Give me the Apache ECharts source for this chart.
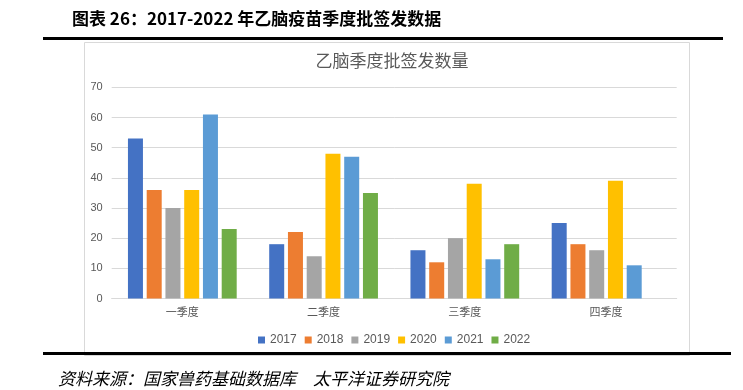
<!DOCTYPE html>
<html>
<head>
<meta charset="utf-8">
<script src="https://cdn.jsdelivr.net/npm/echarts@6/dist/echarts.min.js"></script>
<style>
html,body{margin:0;padding:0;background:#fff;}
#c{width:743px;height:390px;}
</style>
</head>
<body>
<div id="c"></div>
<script>
const categories = ['一季度', '二季度', '三季度', '四季度'];
const years = ['2017', '2018', '2019', '2020', '2021', '2022'];
const v2017 = [53, 18, 16, 25];
const v2018 = [36, 22, 12, 18];
const v2019 = [30, 14, 20, 16];
const v2020 = [36, 48, 38, 39];
const v2021 = [61, 47, 13, 11];
const v2022 = [23, 35, 18, null];
const yTicks = [0, 10, 20, 30, 40, 50, 60, 70];
const headerText = '图表 26：2017-2022 年乙脑疫苗季度批签发数据';
const chartTitle = '乙脑季度批签发数量';
const footerText = '资料来源：国家兽药基础数据库　太平洋证券研究院';

const colors = ['#4472C4', '#ED7D31', '#A5A5A5', '#FFC000', '#5B9BD5', '#70AD47'];
const seriesValues = [v2017, v2018, v2019, v2020, v2021, v2022];
const cjk = '"Noto Sans CJK SC", "Noto Sans", sans-serif';

const chart = echarts.init(document.getElementById('c'), null, {renderer: 'canvas'});
chart.setOption({
  animation: false,
  color: colors,
  graphic: [
    {type: 'text', left: 72, top: 10, style: {text: headerText, font: 'bold 17px ' + cjk, fill: '#000'}},
    {type: 'rect', shape: {x: 43, y: 37, width: 680, height: 3}, style: {fill: '#000'}},
    {type: 'rect', z: -1, shape: {x: 84.5, y: 42.5, width: 605, height: 313}, style: {fill: '#fff', stroke: '#D9D9D9', lineWidth: 1}},
    {type: 'text', x: 392, y: 61, style: {text: chartTitle, font: '17px ' + cjk, fill: '#595959', textAlign: 'center', textVerticalAlign: 'middle'}},
    {type: 'rect', shape: {x: 43, y: 352, width: 688, height: 3}, style: {fill: '#000'}},
    {type: 'text', x: 58, y: 379, style: {text: footerText, font: 'italic 17px ' + cjk, fill: '#000', textVerticalAlign: 'middle'}}
  ],
  grid: {left: 111.7, right: 66.3, top: 87.3, bottom: 91.5},
  legend: {
    data: years,
    top: 329,
    left: 253,
    icon: 'rect',
    itemWidth: 7,
    itemHeight: 7,
    itemGap: 8,
    textStyle: {fontSize: 12, color: '#595959', fontFamily: 'Liberation Sans'}
  },
  xAxis: {
    type: 'category',
    data: categories,
    axisLine: {lineStyle: {color: '#D9D9D9', width: 1}},
    axisTick: {show: false},
    axisLabel: {fontSize: 11, color: '#595959', margin: 8, fontFamily: cjk}
  },
  yAxis: {
    type: 'value',
    min: yTicks[0],
    max: yTicks[yTicks.length - 1],
    interval: 10,
    axisLine: {show: false},
    axisTick: {show: false},
    splitLine: {lineStyle: {color: '#D9D9D9', width: 1}},
    axisLabel: {fontSize: 11, color: '#595959', margin: 9, fontFamily: 'Liberation Sans'}
  },
  series: years.map((y, i) => ({
    name: y,
    type: 'bar',
    data: seriesValues[i],
    barWidth: 15,
    barGap: '25%'
  }))
});
</script>
</body>
</html>
